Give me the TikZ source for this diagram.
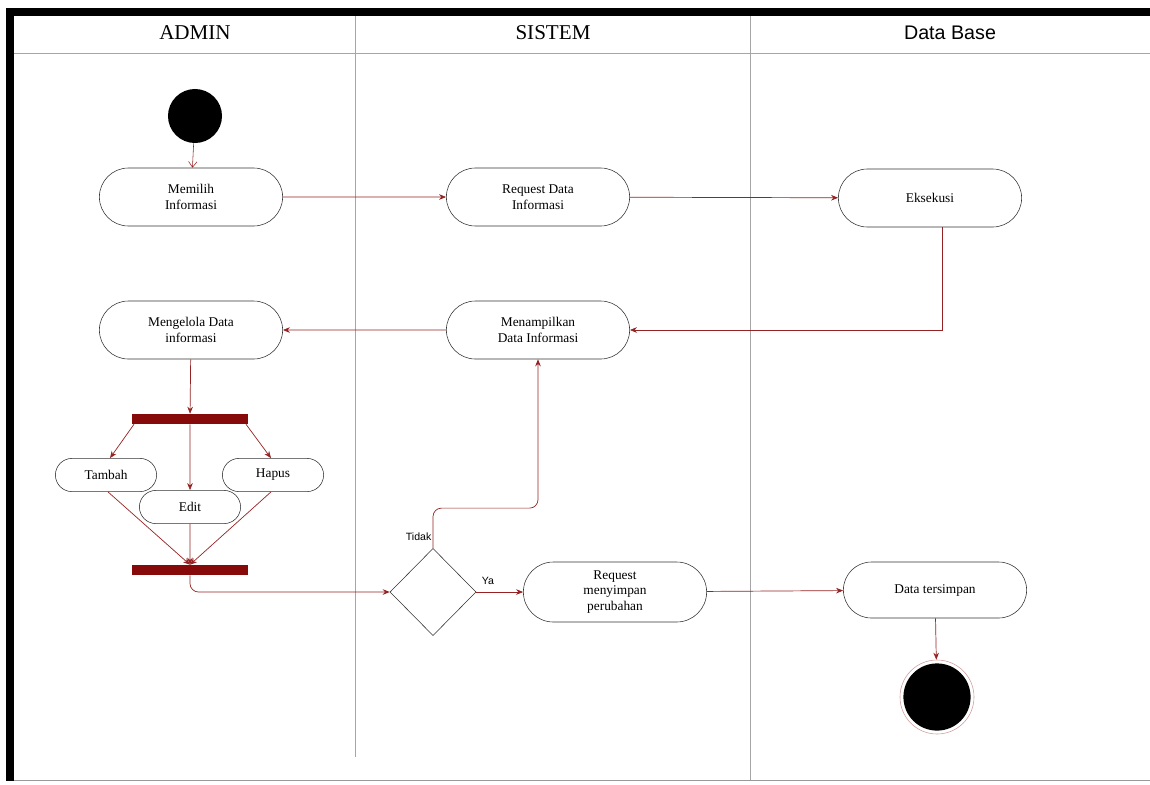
\documentclass[tikz,border=0pt]{standalone}
\usepackage{fontspec}
\setmainfont{Liberation Serif}
\setsansfont{Liberation Sans}
\usetikzlibrary{shapes.misc,shapes.geometric,arrows.meta}
\definecolor{flowred}{RGB}{150,35,35}
\definecolor{barred}{RGB}{135,10,10}
\begin{document}
\begin{tikzpicture}[x=0.025cm,y=-0.025cm,
  act/.style={draw=black!80,rounded rectangle,fill=white,align=center,inner sep=1pt,
    minimum width=4.65cm,minimum height=1.45cm,font=\fontsize{9.5}{11}\selectfont},
  small act/.style={act,minimum width=2.6cm,minimum height=0.83cm},
  bar/.style={fill=barred,minimum width=2.875cm,minimum height=0.25cm,inner sep=0pt},
  flow/.style={draw=flowred,line width=0.5pt,-{Stealth[length=5pt,width=4pt]}},
  lane/.style={draw=black!35,line width=0.6pt},
  head/.style={font=\fontsize{15}{17}\selectfont},
  guard/.style={font=\sffamily\fontsize{7.5}{9}\selectfont,inner sep=1pt}]
\useasboundingbox (0,0) rectangle (1150,784);
% frame and swimlanes
\fill[black] (6,8) rectangle (1150,16);
\fill[black] (6,8) rectangle (14,781);
\draw[black!40] (14,780) -- (1150,780);
\draw[lane] (14,53) -- (1150,53);
\draw[lane] (355,16) -- (355,757);
\draw[lane] (750,16) -- (750,780);
\node[head] (hadmin) at (195,33) {ADMIN};
\node[head] (hsistem) at (553,33) {SISTEM};
\node[head,font=\sffamily\fontsize{14}{16}\selectfont] (hdb) at (950,33) {Data Base};
% activities
\node[circle,fill=black,minimum size=1.35cm,inner sep=0pt] (start) at (195,116) {};
\node[act] (pilih) at (191,197) {Memilih\\Informasi};
\node[act] (reqdata) at (538,197) {Request Data\\Informasi};
\node[act] (eksekusi) at (930,198) {Eksekusi};
\node[act] (tampil) at (538,330) {Menampilkan\\Data Informasi};
\node[act] (kelola) at (191,330) {Mengelola Data\\informasi};
\node[bar] (fork) at (190,419) {};
\node[small act] (tambah) at (106,475) {Tambah};
\node[small act] (hapus) at (273,475) {Hapus};
\node[bar] (join) at (190,570) {};
\node[diamond,draw=black!80,minimum width=2.15cm,minimum height=2.18cm,inner sep=0pt] (dec) at (433,592) {};
\node[act,minimum height=1.5cm] (simpan) at (615,592) {Request\\menyimpan\\perubahan};
\node[act,minimum height=1.4cm] (tersimpan) at (935,590) {Data tersimpan};
\node[circle,draw=flowred!45,fill=white,minimum size=1.85cm,inner sep=0pt,
  path picture={\fill[black] (path picture bounding box.center) circle (0.84cm);}] (stop) at (937,697) {};
% flows
\draw[draw=flowred,-{Straight Barb[length=4pt,width=6pt]}] (start) -- (pilih);
\draw[flow] (pilih) -- (reqdata);
\draw[flow] (reqdata) -- (eksekusi);
\draw[flow] ([xshift=0.3cm]eksekusi.south) |- (tampil.east);
\draw[flow] (tampil) -- (kelola);
\draw[flow] (kelola) -- (fork);
\draw[flow] ([xshift=-1.4cm]fork.south) -- ([xshift=0.1cm]tambah.north);
\draw[flow] ([xshift=1.4cm]fork.south) -- ([xshift=-0.05cm]hapus.north);
\draw[flow] ([xshift=0.05cm]tambah.south) -- (join.north);
\draw[flow] ([xshift=-0.05cm]hapus.south) -- (join.north);
\node[small act] (edit) at (190,507) {Edit};
\draw[flow] (fork) -- (edit);
\draw[flow] (edit) -- (join);
\draw[flow,rounded corners=6pt] (join.south) |- (dec.west);
\draw[flow,rounded corners=6pt] (dec.north) -- ++(0,-40) -| (tampil.south);
\node[guard,anchor=south east] (tidak) at (433,542) {Tidak};
\draw[flow] (dec.east) -- (simpan.west);
\node[guard,anchor=south] (ya) at (488,586) {Ya};
\draw[flow] (simpan) -- (tersimpan);
\draw[flow] (tersimpan) -- (stop);
\end{tikzpicture}
\end{document}
